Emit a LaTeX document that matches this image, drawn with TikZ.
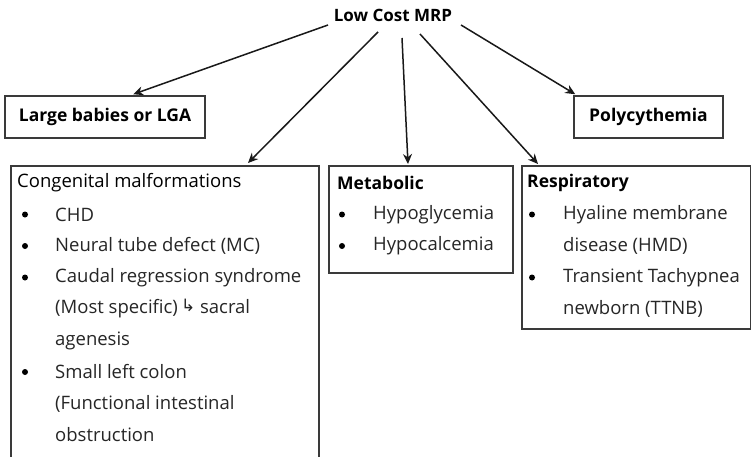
\documentclass[tikz,border=0pt]{standalone}
\usepackage{fontspec}
\setmainfont{Open Sans}
\newfontfamily\symfont{DejaVu Sans}
\usetikzlibrary{arrows.meta,calc}
\definecolor{boxline}{HTML}{3A3A3A}
\definecolor{bodytext}{HTML}{262626}
\tikzset{
  box/.style={draw=boxline, line width=1.5pt, rectangle, inner sep=0pt},
  head/.style={font=\fontsize{17.5}{19}\selectfont\bfseries, text=black, inner sep=0pt},
  item/.style={font=\fontsize{18.5}{20}\selectfont, text=bodytext, inner sep=0pt, anchor=west},
  dot/.style={circle, fill=black, inner sep=0pt, minimum size=6pt},
  arr/.style={draw=black!90, line width=1.5pt, -{Stealth[length=10pt,width=9pt]}}
}
\begin{document}
\begin{tikzpicture}[x=1pt,y=-1pt]
\useasboundingbox[fill=white] (0,0) rectangle (751,457);
% title
\node[head, font=\fontsize{17}{19}\selectfont\bfseries] (top) at (393,15) {Low Cost MRP};
% single line boxes
\node[box, minimum width=200pt, minimum height=42pt, head] (lga) at (105,117) {Large babies or LGA};
\node[box, minimum width=149pt, minimum height=42pt, head] (poly) at (648.5,117) {Polycythemia};
% multi-line boxes
\node[box, minimum width=308pt, minimum height=292pt, anchor=north west] (cong) at (10,165) {};
\node[box, minimum width=184pt, minimum height=107pt, anchor=north west] (meta) at (328,165) {};
\node[box, minimum width=229pt, minimum height=163pt, anchor=north west] (resp) at (521,165) {};
% congenital
\node[item, text=black] (c0) at (17,183) {Congenital malformations};
\node[dot] (cb1) at (25,214.5) {}; \node[item] (c1) at (55,214.5) {CHD};
\node[dot] (cb2) at (25,246) {}; \node[item] (c2) at (55,246) {Neural tube defect (MC)};
\node[dot] (cb3) at (25,277.5) {}; \node[item] (c3) at (55,277.5) {Caudal regression syndrome};
\node[item] (c4) at (55,309) {(Most specific)\,{\symfont\fontsize{17}{18}\selectfont\raisebox{2pt}{↳}}\ sacral};
\node[item] (c5) at (55,340.5) {agenesis};
\node[dot] (cb4) at (25,372) {}; \node[item] (c6) at (55,372) {Small left colon};
\node[item] (c7) at (55,403.5) {(Functional intestinal};
\node[item] (c8) at (55,435) {obstruction};
% metabolic
\node[item, head, anchor=west] (m0) at (337,183) {Metabolic};
\node[dot] (mb1) at (342,214.5) {}; \node[item] (m1) at (373,214.5) {Hypoglycemia};
\node[dot] (mb2) at (342,246) {}; \node[item] (m2) at (373,246) {Hypocalcemia};
% respiratory
\node[item, head, anchor=west] (r0) at (527,183) {Respiratory};
\node[dot] (rb1) at (532,214.5) {}; \node[item] (r1) at (563,214.5) {Hyaline membrane};
\node[item] (r2) at (563,246) {disease (HMD)};
\node[dot] (rb2) at (532,277.5) {}; \node[item] (r3) at (563,277.5) {Transient Tachypnea};
\node[item] (r4) at (563,309) {newborn (TTNB)};
% connectors
\coordinate (s1) at (328,25);
\coordinate (s2) at (378,32);
\coordinate (s3) at (402,38);
\coordinate (s4) at (420,34);
\coordinate (s5) at (461,25);
\draw[arr] (s1) -- ($(lga.north west)+(129,-1)$);
\draw[arr] (s2) -- ($(cong.north west)+(238,-2)$);
\draw[arr] (s3) -- ($(meta.north west)+(80,-1)$);
\draw[arr] (s4) -- ($(resp.north west)+(17,-1)$);
\draw[arr] (s5) -- ($(poly.north west)+(2,-1)$);
\end{tikzpicture}
\end{document}
